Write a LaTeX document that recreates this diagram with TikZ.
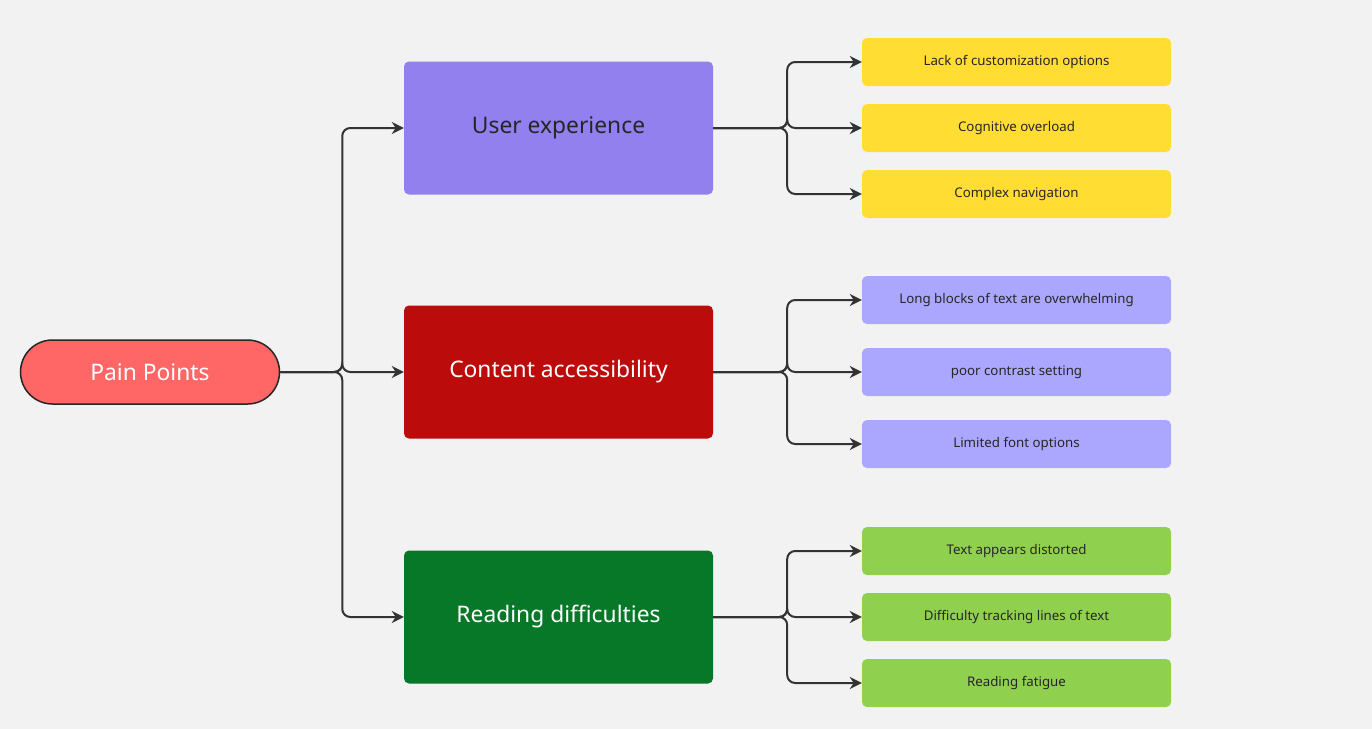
\documentclass[tikz,border=0pt]{standalone}
\usepackage{fontspec}
\setmainfont{Noto Sans}
\usetikzlibrary{arrows.meta, positioning}
\definecolor{bgGray}{HTML}{F2F2F2}
\definecolor{rootRed}{HTML}{FF6666}
\definecolor{uxPurple}{HTML}{9180EE}
\definecolor{caRed}{HTML}{BB0B0B}
\definecolor{rdGreen}{HTML}{077728}
\definecolor{leafYellow}{HTML}{FFDD33}
\definecolor{leafLilac}{HTML}{ABA7FF}
\definecolor{leafGreen}{HTML}{8FD14F}
\definecolor{lineDark}{HTML}{333333}
\tikzset{
topic/.style={rounded corners=5pt,minimum width=309pt,minimum height=133pt,font=\fontsize{22.8}{27}\selectfont,text=white},
leaf/.style={rounded corners=5pt,minimum width=309pt,minimum height=48pt,font=\fontsize{13.3}{16}\selectfont,text=black!85},
conn/.style={draw=lineDark,line width=2pt,rounded corners=8pt,-{Stealth[length=12pt,width=12pt]}}
}

\begin{document}
\begin{tikzpicture}[x=1pt,y=-1pt]
	\useasboundingbox (0,0) rectangle (1372,728);
	\fill[bgGray] (-5,-5) rectangle (1377,733);
	% root
	\node[draw=black!85,line width=1.5pt,fill=rootRed,rounded corners=32pt,minimum width=259pt,minimum height=64pt,
	font=\fontsize{22.8}{27}\selectfont,text=white] (root) at (150,372) {Pain Points};
	% topics
	\node[topic,fill=uxPurple,text=black!85] (ux) at (558.5,128) {User experience};
	\node[topic,fill=caRed] (ca) at (558.5,372) {Content accessibility};
	\node[topic,fill=rdGreen] (rd) at (558.5,617) {Reading difficulties};
	% leaves
	\node[leaf,fill=leafYellow] (ux1) at (1016.5,62) {Lack of customization options};
	\node[leaf,fill=leafYellow] (ux2) at (1016.5,128) {Cognitive overload};
	\node[leaf,fill=leafYellow] (ux3) at (1016.5,194) {Complex navigation};
	\node[leaf,fill=leafLilac] (ca1) at (1016.5,300) {Long blocks of text are overwhelming};
	\node[leaf,fill=leafLilac] (ca2) at (1016.5,372) {poor contrast setting};
	\node[leaf,fill=leafLilac] (ca3) at (1016.5,444) {Limited font options};
	\node[leaf,fill=leafGreen] (rd1) at (1016.5,551) {Text appears distorted};
	\node[leaf,fill=leafGreen] (rd2) at (1016.5,617) {Difficulty tracking lines of text};
	\node[leaf,fill=leafGreen] (rd3) at (1016.5,683) {Reading fatigue};
	% connectors
	\foreach \t in {ux,ca,rd}
		\draw[conn] (root.east) -- ++(62,0) |- (\t.west);
	\foreach \t in {ux,ca,rd}
		\foreach \i in {1,2,3}
			\draw[conn] (\t.east) -- ++(74,0) |- (\t\i.west);
\end{tikzpicture}
\end{document}
